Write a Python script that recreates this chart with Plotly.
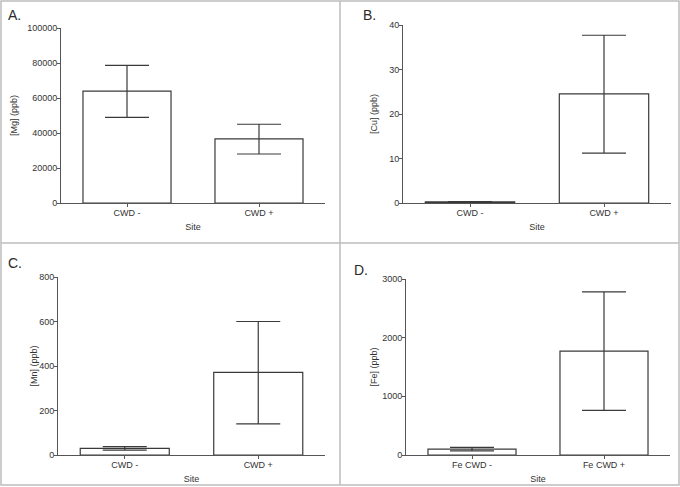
import plotly.graph_objects as go

# ---- data ----
sites_abc = ["CWD -", "CWD +"]
sites_d = ["Fe CWD -", "Fe CWD +"]

mg_mean = [63900, 36600]
mg_err_plus = [14700, 8400]
mg_err_minus = [15000, 8600]

cu_mean = [0.25, 24.5]
cu_err_plus = [0.05, 13.2]
cu_err_minus = [0.05, 13.3]

mn_mean = [30, 371]
mn_err_plus = [8, 229]
mn_err_minus = [8, 231]

fe_mean = [100, 1770]
fe_err_plus = [30, 1010]
fe_err_minus = [30, 1010]

panel_letters = ["A.", "B.", "C.", "D."]
y_titles = ["[Mg] (ppb)", "[Cu] (ppb)", "[Mn] (ppb)", "[Fe] (ppb)"]
y_ranges = [[0, 100000], [0, 40], [0, 800], [0, 3000]]
y_dticks = [20000, 10, 200, 1000]

W, H = 680, 487
FONT = "Liberation Sans, Arial, Helvetica, sans-serif"
AXC = "#555555"
BARC = "#3a3a3a"

def px(x):
    return x / W

def py(y):
    return 1 - y / H

# panel geometry in pixels: (x0, x1, ytop, ybottom)
geo = [
    (61, 325, 28, 203),
    (403, 671, 25, 203),
    (58, 325, 277, 455),
    (406, 670, 279, 455),
]
y_standoff = [8, 10, 0, 3]
x_standoff = [6, 6, 6, 6]

series = [
    (sites_abc, mg_mean, mg_err_plus, mg_err_minus),
    (sites_abc, cu_mean, cu_err_plus, cu_err_minus),
    (sites_abc, mn_mean, mn_err_plus, mn_err_minus),
    (sites_d, fe_mean, fe_err_plus, fe_err_minus),
]

fig = go.Figure()
layout = dict(
    width=W, height=H,
    margin=dict(l=0, r=0, t=0, b=0, autoexpand=False),
    paper_bgcolor="white", plot_bgcolor="white",
    showlegend=False,
    font=dict(family=FONT, size=9, color="#333333"),
)

for i, (cats, mean, ep, em) in enumerate(series):
    n = "" if i == 0 else str(i + 1)
    fig.add_trace(go.Bar(
        x=cats, y=mean,
        xaxis="x" + n, yaxis="y" + n,
        marker=dict(color="white", line=dict(color=BARC, width=1.2)),
        error_y=dict(type="data", symmetric=False, array=ep, arrayminus=em,
                     color=BARC, thickness=1.2, width=22),
        width=0.667,
    ))
    x0, x1, yt, yb = geo[i]
    layout["xaxis" + n] = dict(
        domain=[px(x0), px(x1)], anchor="y" + n,
        range=[-0.5, 1.5], showline=True, linecolor=AXC, linewidth=1,
        ticks="outside", ticklen=3, tickcolor=AXC, showgrid=False,
        zeroline=False, tickfont=dict(size=9, color="#333333"),
        ticklabelstandoff=-2,
        title=dict(text="Site", font=dict(size=9, color="#333333"), standoff=x_standoff[i]),
        automargin=False, fixedrange=True,
    )
    layout["yaxis" + n] = dict(
        domain=[py(yb), py(yt)], anchor="x" + n,
        range=y_ranges[i], dtick=y_dticks[i], tick0=0, tickformat="d",
        showline=True, linecolor=AXC, linewidth=1,
        ticks="outside", ticklen=3, tickcolor=AXC, showgrid=False,
        zeroline=False, tickfont=dict(size=9, color="#333333"),
        ticklabelstandoff=-2,
        title=dict(text=y_titles[i], font=dict(size=9, color="#333333"), standoff=y_standoff[i]),
        automargin=False, fixedrange=True,
    )

letter_pos = [(6, 15), (361, 15), (6, 263), (352, 270)]
annotations = []
for (lx, ly), t in zip(letter_pos, panel_letters):
    annotations.append(dict(
        text=t, x=px(lx), y=py(ly), xref="paper", yref="paper",
        xanchor="left", yanchor="middle", showarrow=False,
        font=dict(size=14, color="#2a2a2a", family=FONT),
    ))
layout["annotations"] = annotations

BC = "#bdbdbd"
layout["shapes"] = [
    dict(type="rect", xref="paper", yref="paper", x0=px(1), x1=px(679), y0=py(485), y1=py(1),
         line=dict(color=BC, width=1.5), fillcolor="rgba(0,0,0,0)"),
    dict(type="line", xref="paper", yref="paper", x0=px(340), x1=px(340), y0=py(485), y1=py(1),
         line=dict(color=BC, width=1.5)),
    dict(type="line", xref="paper", yref="paper", x0=px(1), x1=px(679), y0=py(243), y1=py(243),
         line=dict(color=BC, width=1.5)),
]

fig.update_layout(**layout)
fig.write_html("out.html", config={"displayModeBar": False},
               post_script="document.body.style.margin='0px';")
